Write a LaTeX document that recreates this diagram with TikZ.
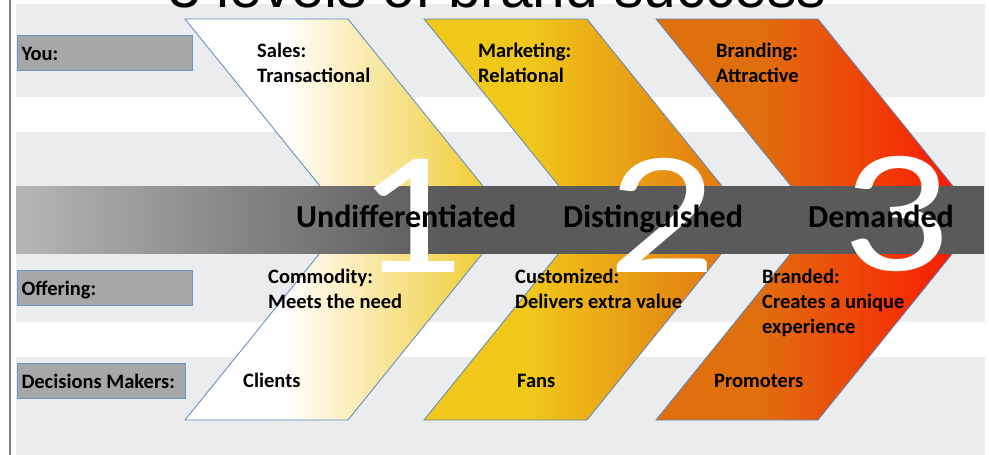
\documentclass[tikz,border=0pt]{standalone}
\usepackage{fontspec}
\setmainfont{Carlito}
\newfontfamily\titlefont{Liberation Sans}

% palette
\definecolor{rowgray}{HTML}{EBECEE}
\definecolor{framegray}{HTML}{7F7F7F}
\definecolor{boxgray}{HTML}{A5A8A6}
\definecolor{boxedge}{HTML}{6A94C8}
\definecolor{edgeblue}{HTML}{5B87C0}
\definecolor{goldA}{HTML}{EFC61C}
\definecolor{goldB}{HTML}{F0C81A}
\definecolor{orangeA}{HTML}{E06F0E}
\definecolor{redA}{HTML}{FF1000}
\definecolor{bandL}{HTML}{B6B6B6}
\definecolor{bandR}{HTML}{5A5A5A}

% left-to-right fills (path box maps to 25bp..75bp)
\pgfdeclarehorizontalshading{chevA}{100bp}{color(0bp)=(white); color(40bp)=(white); color(75bp)=(goldA); color(100bp)=(goldA)}
\pgfdeclarehorizontalshading{chevB}{100bp}{color(0bp)=(goldB); color(41bp)=(goldB); color(75bp)=(orangeA); color(100bp)=(orangeA)}
\pgfdeclarehorizontalshading{chevC}{100bp}{color(0bp)=(orangeA); color(41bp)=(orangeA); color(75bp)=(redA); color(100bp)=(redA)}
\pgfdeclarehorizontalshading{bandsh}{100bp}{color(0bp)=(bandL); color(25bp)=(bandL); color(47bp)=(bandR); color(100bp)=(bandR)}

\begin{document}
\begin{tikzpicture}[x=1pt,y=-1pt,
  chevron/.style={draw=edgeblue, line width=0.8pt},
  labelbox/.style={draw=boxedge, fill=boxgray, line width=1pt, anchor=north west,
    minimum height=35pt, inner xsep=4pt, inner ysep=0pt,
    text height=14pt, text depth=0pt,
    font=\fontsize{20.5}{25}\selectfont\bfseries},
  lbl/.style={font=\fontsize{20.5}{25}\selectfont\bfseries, inner sep=0pt,
    anchor=base west, align=left},
  bandtext/.style={font=\fontsize{32}{36}\selectfont\bfseries, inner sep=0pt, anchor=base west},
  numeral/.style={font=\fontsize{176}{176}\selectfont, text=white, inner sep=0pt,
    anchor=base, xscale=1.22}
]
\useasboundingbox (0,0) rectangle (989,455);
\fill[white] (0,0) rectangle (989,455);

% light rows
\fill[rowgray] (16,4) rectangle (985,97);
\fill[rowgray] (16,132) rectangle (985,186);
\fill[rowgray] (16,253) rectangle (985,322);
\fill[rowgray] (16,357) rectangle (985,455);

% left frame line
\draw[framegray, line width=2pt] (10,0) -- (10,455);

% title
\node[font=\titlefont\fontsize{58.6}{60}\selectfont, anchor=base, inner sep=0pt] (title) at (497,7.5) {3 levels of brand success};

% row labels
\node[labelbox] (you) at (17,35) {\makebox[167pt][l]{You:}};
\node[labelbox] (offering) at (17,270) {\makebox[167pt][l]{Offering:}};
\node[labelbox] (deciders) at (17,363) {\makebox[160pt][l]{Decisions Makers:}};

% chevrons
\shadedraw[chevron, shading=chevA] (185,19) -- ++(163,0) -- ++(162,200.5) -- ++(-162,200.5) -- ++(-163,0) -- ++(162,-200.5) -- cycle;
\shadedraw[chevron, shading=chevB] (424,19) -- ++(163,0) -- ++(162,200.5) -- ++(-162,200.5) -- ++(-163,0) -- ++(162,-200.5) -- cycle;
\shadedraw[chevron, shading=chevC] (656,19) -- ++(162,0) -- ++(162,200.5) -- ++(-162,200.5) -- ++(-162,0) -- ++(162,-200.5) -- cycle;

% dark band
\shade[shading=bandsh] (16,186) rectangle (984,253);

% level numbers
\node[numeral] (n1) at (410,272) {1};
\node[numeral] (n2) at (662,272) {2};
\node[numeral] (n3) at (896,270) {3};

% level names
\node[bandtext] (lev1) at (296,227) {Undifferentiated};
\node[bandtext] (lev2) at (563,227) {Distinguished};
\node[bandtext] (lev3) at (808,227) {Demanded};

% chevron texts (anchored on the last line's baseline)
\node[lbl] (sales) at (257,82) {Sales:\\Transactional};
\node[lbl] (marketing) at (478,82) {Marketing:\\Relational};
\node[lbl] (branding) at (716,82) {Branding:\\Attractive};
\node[lbl] (commodity) at (268,308) {Commodity:\\Meets the need};
\node[lbl] (customized) at (515,308) {Customized:\\Delivers extra value};
\node[lbl] (branded) at (762,333) {Branded:\\Creates a unique\\experience};
\node[lbl] (clients) at (243,387) {Clients};
\node[lbl] (fans) at (517,387) {Fans};
\node[lbl] (promoters) at (714,387) {Promoters};
\end{tikzpicture}
\end{document}
